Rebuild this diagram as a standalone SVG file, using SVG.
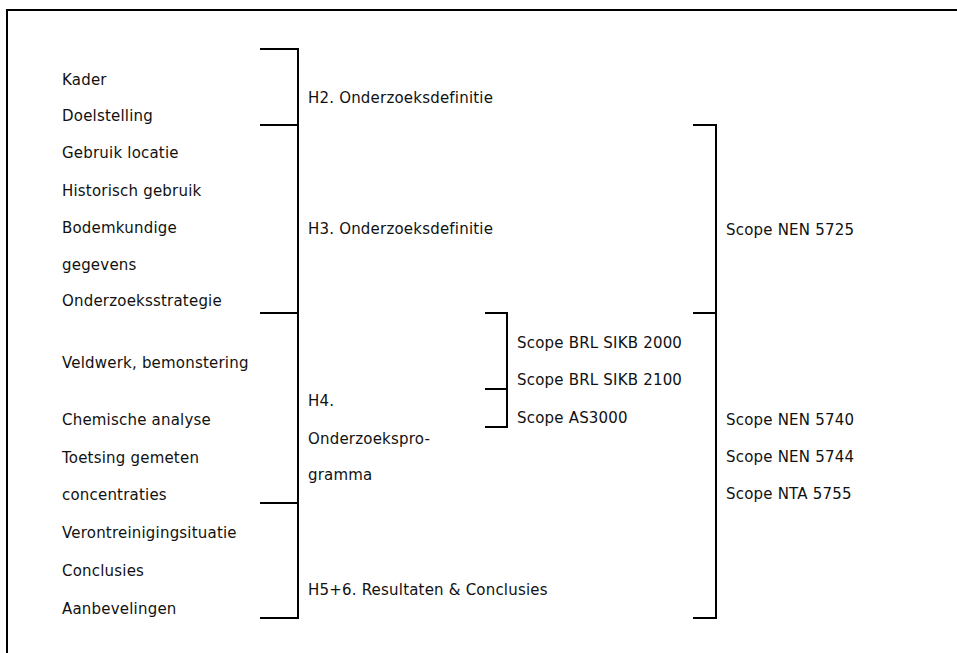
<svg xmlns="http://www.w3.org/2000/svg" width="957" height="653" viewBox="0 0 957 653">
<style>
text{font-family:"DejaVu Sans","Liberation Sans",sans-serif;font-size:15px;fill:#111;letter-spacing:0.2px}
.ln{fill:none;stroke:#000;stroke-width:2;stroke-linecap:butt}
</style>
<rect width="957" height="653" fill="#fff"/>
<g id="frame"><path class="ln" d="M7,653 V10 H957"/></g>
<g id="connectors">
<path class="ln" d="M260,49 H298 V618 H260 M260,125 H298 M260,313 H298 M260,503 H298"/>
<path class="ln" d="M485,313 H507 V427 H485 M485,389 H507"/>
<path class="ln" d="M693,125 H716 V618 H693 M693,313 H716"/>
</g>
<g id="items">
<text x="62" y="85">Kader</text>
<text x="62" y="121">Doelstelling</text>
<text x="62" y="158">Gebruik locatie</text>
<text x="62" y="196">Historisch gebruik</text>
<text x="62" y="233">Bodemkundige</text>
<text x="62" y="270">gegevens</text>
<text x="62" y="306">Onderzoeksstrategie</text>
<text x="62" y="368">Veldwerk, bemonstering</text>
<text x="62" y="425">Chemische analyse</text>
<text x="62" y="463">Toetsing gemeten</text>
<text x="62" y="500">concentraties</text>
<text x="62" y="538">Verontreinigingsituatie</text>
<text x="62" y="576">Conclusies</text>
<text x="62" y="614">Aanbevelingen</text>
</g>
<g id="h2"><text x="308" y="103">H2. Onderzoeksdefinitie</text></g>
<g id="h3"><text x="308" y="234">H3. Onderzoeksdefinitie</text></g>
<g id="h4"><text x="308" y="406">H4.</text><text x="308" y="444">Onderzoekspro-</text><text x="308" y="480">gramma</text></g>
<g id="h56"><text x="308" y="595">H5+6. Resultaten &amp; Conclusies</text></g>
<g id="brl2000"><text x="517" y="348">Scope BRL SIKB 2000</text></g>
<g id="brl2100"><text x="517" y="385">Scope BRL SIKB 2100</text></g>
<g id="as3000"><text x="517" y="423">Scope AS3000</text></g>
<g id="nen5725"><text x="726" y="235">Scope NEN 5725</text></g>
<g id="nen5740"><text x="726" y="425">Scope NEN 5740</text></g>
<g id="nen5744"><text x="726" y="462">Scope NEN 5744</text></g>
<g id="nta5755"><text x="726" y="499">Scope NTA 5755</text></g>
</svg>
